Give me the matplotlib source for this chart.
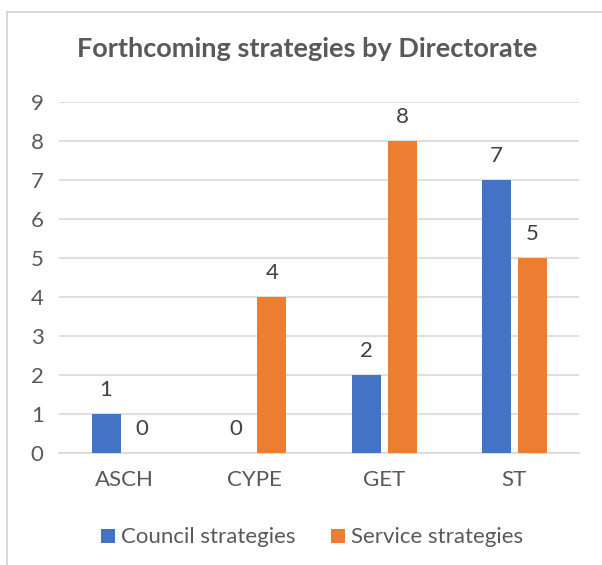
import numpy as np
from matplotlib import pyplot as plt
from matplotlib.lines import Line2D

directorates = ['ASCH', 'CYPE', 'GET', 'ST']
council = [1, 0, 2, 7]
service = [0, 4, 8, 5]

blue = '#4472C4'
orange = '#ED7D31'
text_grey = '#595959'
grid_grey = '#D9D9D9'

plt.rcParams['font.family'] = ['Lato', 'DejaVu Sans']

fig = plt.figure(figsize=(6.02, 5.65), dpi=100)
ax = fig.add_axes([0.098, 0.198, 0.864, 0.6215])

x = np.arange(len(directorates))
width = 0.223
offset = 0.138
b1 = ax.bar(x - offset, council, width, color=blue, label='Council strategies', zorder=3)
b2 = ax.bar(x + offset, service, width, color=orange, label='Service strategies', zorder=3)
ax.bar_label(b1, padding=10, fontsize=16, color='#404040')
ax.bar_label(b2, padding=10, fontsize=16, color='#404040')

ax.set_xlim(-0.5, len(directorates) - 0.5)
ax.set_ylim(0, 9)
ax.set_yticks(range(10))
ax.set_xticks(x)
ax.set_xticklabels(directorates)
ax.tick_params(axis='both', length=0, labelsize=16, labelcolor=text_grey)
ax.tick_params(axis='x', pad=12)
ax.tick_params(axis='y', pad=11)
ax.grid(axis='y', color=grid_grey, linewidth=1.2, zorder=0)
for side in ['top', 'right', 'left']:
    ax.spines[side].set_visible(False)
ax.spines['bottom'].set_color(grid_grey)
ax.spines['bottom'].set_linewidth(1.2)

fig.suptitle('Forthcoming strategies by Directorate', x=0.51, y=0.935,
             fontsize=19.5, fontweight='bold', color=text_grey)

ax.legend(loc='center', bbox_to_anchor=(0.487, -0.24), ncol=2, frameon=False,
          fontsize=16, labelcolor=text_grey, handlelength=0.6, handleheight=0.6,
          handletextpad=0.3, columnspacing=1.6)

# outer chart border (only left and top visible in the crop)
fig.add_artist(Line2D([0.011, 0.011], [0, 0.979], color='#D9D9D9', linewidth=1.5))
fig.add_artist(Line2D([0.011, 1], [0.979, 0.979], color='#D9D9D9', linewidth=1.5))

fig.savefig('out.png', dpi=100)
